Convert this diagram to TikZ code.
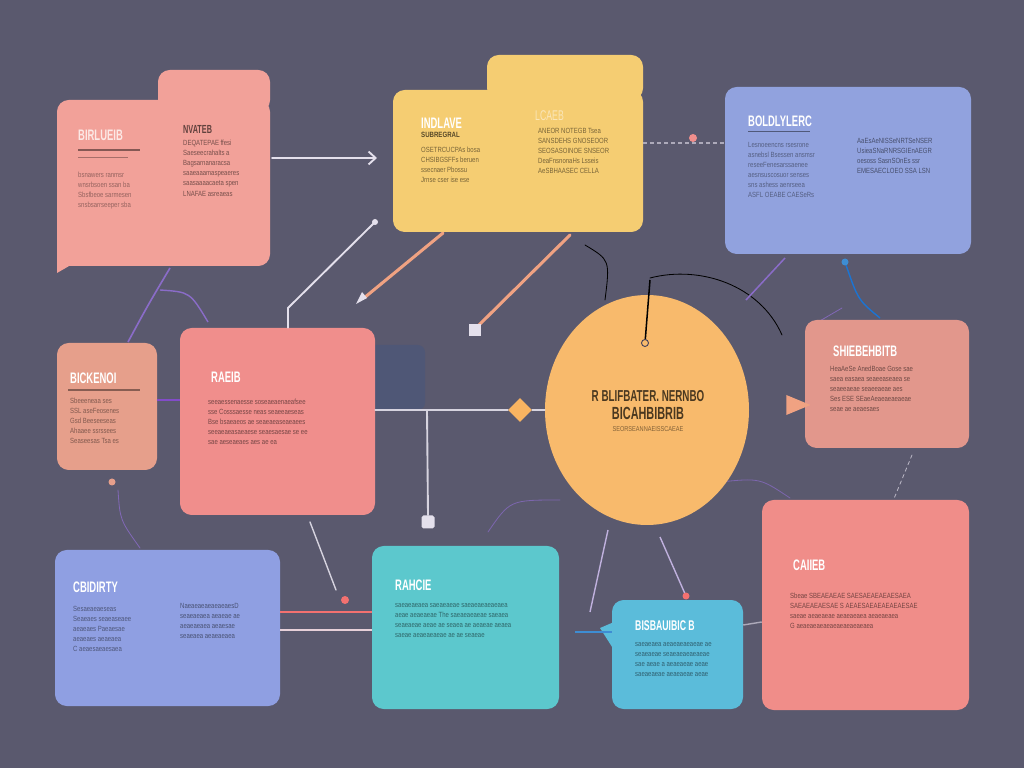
\documentclass[tikz,border=0pt]{standalone}
\usepackage{fontspec}
\setmainfont{Liberation Sans}
\newfontfamily\ttlfont[FakeStretch=0.62]{Liberation Sans}
\newfontfamily\bdyfont[FakeStretch=0.8]{Liberation Sans}
\usetikzlibrary{fit,arrows.meta,shapes.geometric}
\definecolor{bg}{HTML}{5A596E}
\definecolor{pinkA}{HTML}{F2A199}
\definecolor{yel}{HTML}{F5CD72}
\definecolor{blueA}{HTML}{91A2DE}
\definecolor{salA}{HTML}{E69F8B}
\definecolor{pinkB}{HTML}{F08E8C}
\definecolor{circ}{HTML}{F8BA6C}
\definecolor{salB}{HTML}{E2978C}
\definecolor{blueB}{HTML}{8F9FE2}
\definecolor{teal}{HTML}{5CC8CD}
\definecolor{tealB}{HTML}{5BBCDA}
\definecolor{pinkC}{HTML}{F08D89}
\definecolor{wline}{HTML}{E4E0EC}
\definecolor{oline}{HTML}{F0A282}
\definecolor{purp}{HTML}{8A6CC8}
\definecolor{thin}{HTML}{45415A}
\definecolor{dk}{HTML}{4F5776}
\tikzset{
  card/.style={rounded corners=10pt, inner sep=0pt, draw=none},
  ttl/.style={anchor=north west, inner sep=0pt, font=\ttlfont\fontsize{13}{13}\selectfont\bfseries},
  bdy/.style={anchor=north west, inner sep=0pt, align=left, font=\bdyfont\fontsize{6.4}{8.6}\selectfont},
  conn/.style={line width=1.6pt, line cap=round},
  thinl/.style={line width=0.7pt, line cap=round},
}
\begin{document}
\begin{tikzpicture}[x=0.03cm,y=-0.03cm]
\fill[bg] (0,0) rectangle (1024,768);
\useasboundingbox (0,0) rectangle (1024,768);

% ---------- thin background lines ----------
\coordinate (t1a) at (170,268); \coordinate (t1b) at (148,305); \coordinate (t1c) at (128,342);
\draw[purp, line width=1.4pt] (t1a) .. controls (t1b) .. (t1c);
\coordinate (t2a) at (160,290); \coordinate (t2b) at (208,322);
\draw[purp, line width=1.2pt] (t2a) .. controls (190,292) .. (t2b);
\coordinate (t3a) at (118,490); \coordinate (t3b) at (140,548);
\draw[purp!80!bg, thinl] (t3a) .. controls (120,520) .. (t3b);
\fill[salA] (112,482) circle (3.5);
\coordinate (t4a) at (650,278); \coordinate (t4b) at (782,335);
\draw[thin, thinl] (t4a) .. controls (700,265) and (760,285) .. (t4b);
\coordinate (t5a) at (585,245); \coordinate (t5b) at (605,300);
\draw[thin, thinl] (t5a) .. controls (610,260) .. (t5b);
\coordinate (t6a) at (488,532); \coordinate (t6b) at (560,500);
\draw[purp!70!bg, thinl] (t6a) .. controls (510,500) .. (t6b);
\coordinate (t7a) at (720,482); \coordinate (t7b) at (790,498);
\draw[purp!70!bg, thinl] (t7a) .. controls (760,478) .. (t7b);
\coordinate (t8a) at (912,455); \coordinate (t8b) at (872,552);
\draw[wline!70!bg, thinl, dashed] (t8a) -- (t8b);
\coordinate (t9a) at (845,262); \coordinate (t9b) at (880,318);
\draw[blue!50!cyan!70!bg, line width=1.2pt] (t9a) .. controls (858,300) .. (t9b);
\fill[cyan!60!blue!80!white] (845,262) circle (3.5);
\coordinate (t10a) at (785,258); \coordinate (t10b) at (746,300);
\draw[purp, line width=1.3pt] (t10a) -- (t10b);
\coordinate (t11a) at (842,308); \coordinate (t11b) at (818,322);
\draw[purp!80!bg, thinl] (t11a) -- (t11b);

% ---------- dark panel behind big pink ----------
\fill[dk, rounded corners=6pt] (360,345) rectangle (425,410);

% ---------- cards ----------
% card 1 (tabbed pink)
\node[card, fill=pinkA, fit={(158,70) (270,112)}] (b1tab) {};
\node[card, fill=pinkA, fit={(57,100) (270,266)}] (b1) {};
\fill[pinkA] (57,250) -- (57,273) -- (76,262) -- cycle;
% card 2 (tabbed yellow)
\node[card, fill=yel, fit={(487,55) (643,100)}] (b2tab) {};
\node[card, fill=yel, fit={(393,90) (643,232)}] (b2) {};
% card 3
\node[card, fill=blueA, fit={(725,87) (971,254)}] (b3) {};
% card 4
\node[card, fill=salA, fit={(57,343) (157,470)}] (b4) {};
% card 5
\node[card, fill=pinkB, fit={(180,328) (375,515)}] (b5) {};
% circle
\node[ellipse, fill=circ, minimum width=204*0.03cm, minimum height=230*0.03cm, inner sep=0pt] (c) at (647,410) {};
% card 7
\node[card, fill=salB, fit={(805,320) (969,448)}] (b7) {};
% card 8
\node[card, fill=blueB, fit={(55,550) (280,706)}] (b8) {};
% card 9
\node[card, fill=teal, fit={(372,546) (559,709)}] (b9) {};
% card 10
\node[card, fill=tealB, fit={(612,600) (743,709)}] (b10) {};
\fill[tealB] (600,628) -- (614,622) -- (614,650) -- cycle;
% card 11
\node[card, fill=pinkC, fit={(762,500) (969,710)}] (b11) {};

% ---------- connectors ----------
\coordinate (a1s) at (272,158); \coordinate (a1e) at (377,158);
\draw[conn, wline, -{Straight Barb[length=6pt,width=11pt,line width=1.6pt]}] (a1s) -- (a1e);

\coordinate (a2s) at (375,222); \coordinate (a2m) at (288,308);
\draw[conn, wline] (a2s) -- (a2m) -- (b5.north -| a2m);
\fill[wline] (a2s) circle (3);

\coordinate (a3s) at (443,233); \coordinate (a3e) at (364,298);
\draw[oline, line width=2.6pt, line cap=round] (a3s) -- (a3e);
\fill[wline] (a3e) ++(-8,6) -- ++(6,-12) -- ++(5,6) -- cycle;

\coordinate (a4s) at (570,235); \coordinate (a4e) at (478,326);
\draw[oline, line width=2.6pt, line cap=round] (a4s) -- (a4e);
\node[fill=wline, minimum size=12*0.03cm, inner sep=0pt] (sq1) at (475,330) {};

\coordinate (a5s) at (645,343); \coordinate (a5e) at (650,280);
\draw[thin, line width=1.3pt] (a5s) -- (a5e);
\node[circle, fill=circ, draw=thin, line width=0.8pt, minimum size=7*0.03cm, inner sep=0pt] (dot1) at (a5s) {};

\node[diamond, fill=circ!90!orange, minimum size=24*0.03cm, inner sep=0pt] (dia) at (520,410) {};
\coordinate (br) at (427,410);
\draw[conn, wline!90!bg] (b5.east |- dia) -- (dia.west);
\draw[conn, wline!90!bg] (dia.east) -- (c.west);
\node[fill=wline, minimum size=13*0.03cm, inner sep=0pt, rounded corners=1.5pt] (sq2) at (428,522) {};
\draw[conn, wline!90!bg] (br) -- (sq2.north);

\coordinate (a7s) at (643,143); \coordinate (a7e) at (725,143);
\draw[wline!60!bg, line width=1pt, dashed] (a7s) -- (a7e);
\fill[pinkB] (693,138) circle (4);

\node[isosceles triangle, fill=oline, minimum width=20*0.03cm, minimum height=18*0.03cm, inner sep=0pt] (tri) at (793,405) {};

\draw[line width=2pt, blue!60!purple!70!white] (b4.east |- 0,400) -- (b5.west |- 0,400);

\draw[line width=1.6pt, pinkB!80!red] (b8.east |- 0,612) -- (b9.west |- 0,612);
\draw[line width=1.6pt, wline!80!pinkB] (b8.east |- 0,630) -- (b9.west |- 0,630);

\coordinate (a13s) at (310,522); \coordinate (a13e) at (336,590);
\draw[conn, wline!90!bg, line width=1.2pt] (a13s) -- (a13e);
\fill[pinkB!80!red] (345,600) circle (4);

\coordinate (a14s) at (608,530); \coordinate (a14e) at (590,612);
\draw[purp!40!wline, line width=1.2pt] (a14s) -- (a14e);
\coordinate (a15s) at (660,537); \coordinate (a15e) at (686,596);
\draw[purp!40!wline, line width=1.2pt] (a15s) -- (a15e);
\fill[pinkB!80!red] (a15e) circle (3.5);
\coordinate (a16s) at (575,632);
\draw[line width=2pt, cyan!60!blue!80!white] (a16s) -- (b10.west |- a16s);
\draw[line width=1.2pt, wline!60!bg] (b10.east |- 0,625) -- (b11.west |- 0,622);

% ---------- texts ----------
% card 1
\node[ttl, text=pinkA!25!white] (x1t) at (78,130) {BIRLUEIB};
\draw[pinkA!55!black, line width=1.2pt] (78,150) -- (140,150);
\draw[pinkA!55!black!70!pinkA, line width=0.8pt] (78,157) -- (128,157);
\node[bdy, text=pinkA!55!black!85!pinkA] (x1b) at (78,172) {bsnawers ranmsr\\wnsrbsoen ssan ba\\Sbsfbeoe sarmesen\\snsbsarrseeper sba};
\node[ttl, text=pinkA!40!black, font=\ttlfont\fontsize{10}{10}\selectfont\bfseries] (x1r) at (183,125) {NVATEB};
\node[bdy, text=pinkA!40!black!85!pinkA] (x1rb) at (183,140) {DEQATEPAE ffesi\\Saeseecrahalts a\\Bagsarnanaracsa\\saaeaaamaspeaeres\\saasaaaacaeta spen\\LNAFAE asreaeas};
% card 2
\node[ttl, text=white] (x2t) at (421,118) {INDLAVE};
\node[bdy, text=yel!35!black, font=\bdyfont\fontsize{6.5}{7}\selectfont\bfseries] (x2s) at (421,132) {SUBREGRAL};
\node[bdy, text=yel!40!black!85!yel] (x2b) at (421,147) {OSETRCUCPAs bosa\\CHSIBGSFFs beruen\\ssecnaer Pbossu\\Jrnse cser ise ese};
\node[ttl, text=yel!50!white, font=\ttlfont\fontsize{12}{12}\selectfont] (x2r) at (535,110) {LCAEB};
\node[bdy, text=yel!40!black!85!yel] (x2rb) at (538,128) {ANEOR NOTEGB Tsea\\SANSDEHS GNOSEOOR\\SEOSASOINOE SNSEOR\\DeaFnsnonaHs Lsseis\\AeSBHAASEC CELLA};
% card 3
\node[ttl, text=white] (x3t) at (748,116) {BOLDLYLERC};
\draw[blueA!55!black, line width=0.8pt] (748,131) -- (810,131);
\node[bdy, text=blueA!45!black!75!blueA] (x3b) at (748,142) {Lesnoeencns rsesrone\\asnebsl Bsessen ansmsr\\reseeFenesarssaenee\\aesnsuscosuor senses\\sns ashess aenrseea\\ASFL OEABE CAESeRs};
\node[bdy, text=blueA!40!black!85!blueA] (x3r) at (857,138) {AaEsAeNISSeNRTSeNSER\\UsieaSNaRNRSGIEnAEGR\\oesoss SasnSOnEs ssr\\EMESAECLOEO SSA LSN};
% circle
\node[anchor=center, inner sep=0pt, text=circ!30!black, font=\ttlfont\fontsize{13.5}{13.5}\selectfont\bfseries] (xc1) at (648,396) {R BLIFBATER. NERNBO};
\node[anchor=center, inner sep=0pt, text=circ!30!black, font=\ttlfont\fontsize{15}{15}\selectfont\bfseries] (xc2) at (648,413) {BICAHBIBRIB};
\node[anchor=center, inner sep=0pt, text=circ!40!black!80!circ, font=\bdyfont\fontsize{6}{6}\selectfont] (xc3) at (648,429) {SEORSEANNAEISSCAEAE};
% card 4
\node[ttl, text=white] (x4t) at (70,373) {BICKENOI};
\draw[salA!45!black!75!salA, line width=1pt] (68,390) -- (140,390);
\node[bdy, text=salA!45!black!80!salA] (x4b) at (70,398) {Sbeeeneaa ses\\SSL aseFeosenes\\Gsd Beeseeseas\\Ahaaee ssrssees\\Seaseesas Tsa es};
% card 5
\node[ttl, text=white] (x5t) at (211,372) {RAEIB};
\node[bdy, text=pinkB!40!black!85!pinkB] (x5b) at (208,399) {seeaessenaesse soseaeaenaeafsee\\sse Cosssaesse neas seaeeaeseas\\Bse bsaeaeos ae seaeaeaseaeaees\\seeaeaeasaeaese seaesaesae se ee\\sae aeseaeaes aes ae ea};
% card 7
\node[ttl, text=white] (x7t) at (833,346) {SHIEBEHBITB};
\node[bdy, text=salB!40!black!85!salB] (x7b) at (830,366) {HeaAeSe AnedBoae Gose sae\\saea easaea seaeeaseaea se\\seaeeaeae seaeeaeae aes\\Ses ESE SEaeAeaeaeaeaeae\\seae ae aeaesaes};
% card 8
\node[ttl, text=white] (x8t) at (73,582) {CBIDIRTY};
\node[bdy, text=blueB!35!black!70!blueB] (x8b) at (73,606) {Sesaeaeaeseas\\Seaeaes seaeaseaee\\aeaeaes Paeaesae\\aeaeaes aeaeaea\\C aeaesaeaesaea};
\node[bdy, text=blueB!35!black!75!blueB] (x8r) at (180,603) {NaeaeaeaeaeaeaesD\\seaeaeaea aeaeae ae\\aeaeaeaea aeaesae\\seaeaea aeaeaeaea};
% card 9
\node[ttl, text=white] (x9t) at (395,580) {RAHCIE};
\node[bdy, text=teal!35!black!75!teal] (x9b) at (395,603) {saeaeaeaea saeaeaeae saeaeaeaeaeaea\\aeae aeaeaeae The saeaeaeaeae saeaea\\seaeaeae aeae ae seaea ae aeaeae aeaea\\saeae aeaeaeaeae ae ae seaeae};
% card 10
\node[ttl, text=white, font=\ttlfont\fontsize{12}{12}\selectfont\bfseries] (x10t) at (635,620) {BISBAUIBIC B};
\node[bdy, text=tealB!35!black!75!tealB] (x10b) at (635,642) {saeaeaea aeaeaeaeaeae ae\\seaeaeae seaeaeaeaeaeae\\sae aeae a aeaeaeae aeae\\saeaeaeae aeaeaeae aeae};
% card 11
\node[ttl, text=white] (x11t) at (793,560) {CAIIEB};
\node[bdy, text=pinkC!40!black!85!pinkC] (x11b) at (790,593) {Sbeae  SBEAEAEAE SAESAEAEAEAESAEA\\SAEAEAEAESAE S AEAESAEAEAEAEAESAE\\saeae aeaeaeae aeaeaeaea aeaeaeaea\\G aeaeaeaeaeaeaeaeaeaeaea};
\end{tikzpicture}
\end{document}
